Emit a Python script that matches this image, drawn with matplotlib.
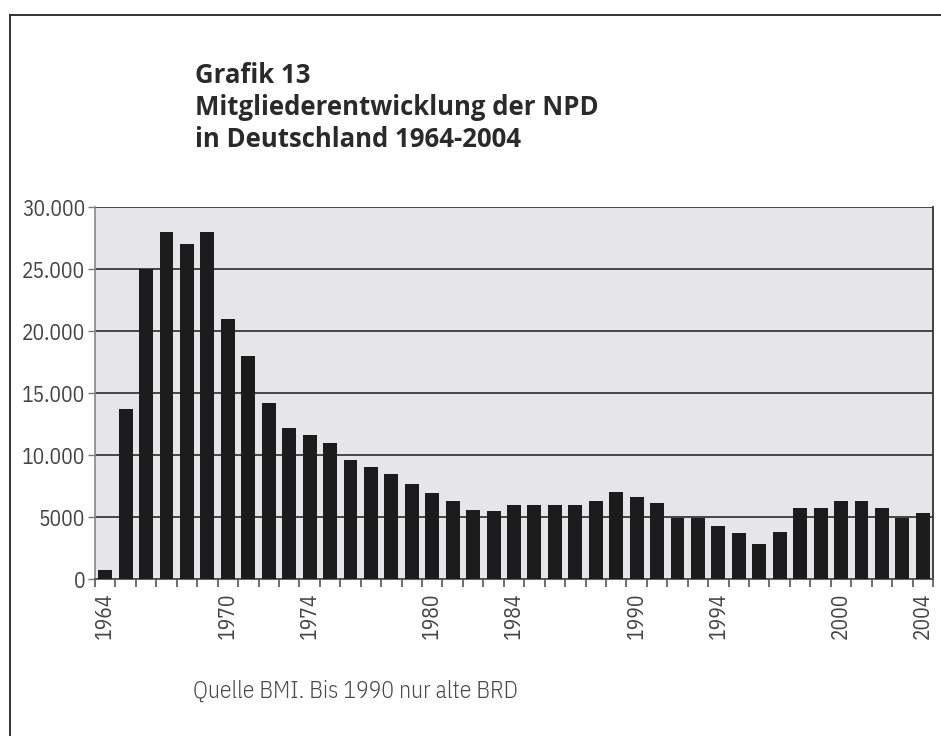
import matplotlib
matplotlib.use("Agg")
import matplotlib.pyplot as plt
from matplotlib.ticker import FixedLocator

# === Daten ===
jahre = list(range(1964, 2005))
mitglieder = [
    700, 13700, 25000, 28000, 27000, 28000, 21000, 18000, 14200, 12200,
    11600, 11000, 9600, 9000, 8500, 7700, 6900, 6300, 5600, 5500,
    6000, 6000, 6000, 6000, 6300, 7000, 6600, 6100, 4900, 4900,
    4300, 3700, 2800, 3800, 5700, 5700, 6300, 6300, 5700, 4900,
    5350,
]
y_ticks = [0, 5000, 10000, 15000, 20000, 25000, 30000]
y_labels = ["0", "5000", "10.000", "15.000", "20.000", "25.000", "30.000"]
x_ticks = [1964, 1970, 1974, 1980, 1984, 1990, 1994, 2000, 2004]

titel_zeilen = ["Grafik 13", "Mitgliederentwicklung der NPD", "in Deutschland 1964-2004"]
quelle = "Quelle BMI. Bis 1990 nur alte BRD"

schrift = ["IBM Plex Sans Condensed", "DejaVu Sans"]
titel_schrift = ["Open Sans", "DejaVu Sans"]

W, H = 941, 736
fig = plt.figure(figsize=(W / 100, H / 100), dpi=100)
fig.patch.set_facecolor("white")

# === Rahmen (oben und links) ===
fig.add_artist(plt.Line2D([10 / W, 1], [1 - 15 / H, 1 - 15 / H], color="#333333", lw=1.4))
fig.add_artist(plt.Line2D([10 / W, 10 / W], [0, 1 - 15 / H], color="#333333", lw=1.4))

# === Achse ===
x0, x1, y0, y1 = 95, 933, 207, 579
ax = fig.add_axes([x0 / W, 1 - y1 / H, (x1 - x0) / W, (y1 - y0) / H])
ax.set_facecolor("#e6e6e9")

ax.bar(jahre, mitglieder, width=0.68, color="#1c1c1c", zorder=3)

ax.set_xlim(1963.5, 2004.5)
ax.set_ylim(0, 30000)

ax.set_yticks(y_ticks)
ax.set_yticklabels(y_labels, family=schrift, fontsize=15.5, color="#444444")
ax.yaxis.grid(True, color="#3a3a3a", lw=1.3, zorder=1)
ax.tick_params(axis="y", length=5, width=1, color="#777777", pad=2)

ax.xaxis.set_major_locator(FixedLocator(x_ticks))
ax.set_xticklabels([str(j) for j in x_ticks], rotation=90, fontsize=15.5,
                   color="#444444", family=schrift)
ax.tick_params(axis="x", which="major", length=0, pad=10)
ax.xaxis.set_minor_locator(FixedLocator([j + 0.5 for j in range(1963, 2005)]))
ax.tick_params(axis="x", which="minor", length=6, width=1.2, color="#555555")

ax.spines["top"].set_visible(False)
ax.spines["left"].set_color("#888888")
ax.spines["left"].set_linewidth(1.2)
ax.spines["bottom"].set_color("#555555")
ax.spines["bottom"].set_linewidth(1.3)
ax.spines["right"].set_color("#333333")
ax.spines["right"].set_linewidth(1.3)

# === Texte ===
for i, zeile in enumerate(titel_zeilen):
    fig.text(195 / W, 1 - (83 + 32 * i) / H, zeile, ha="left", va="baseline",
             fontsize=18.5, fontweight="bold", family=titel_schrift, color="#2a2a2a")
fig.text(193 / W, 1 - 698 / H, quelle, ha="left", va="baseline", fontsize=17,
         family=schrift, fontweight=300, color="#4a4a4a")

fig.savefig("out.png", dpi=100)
